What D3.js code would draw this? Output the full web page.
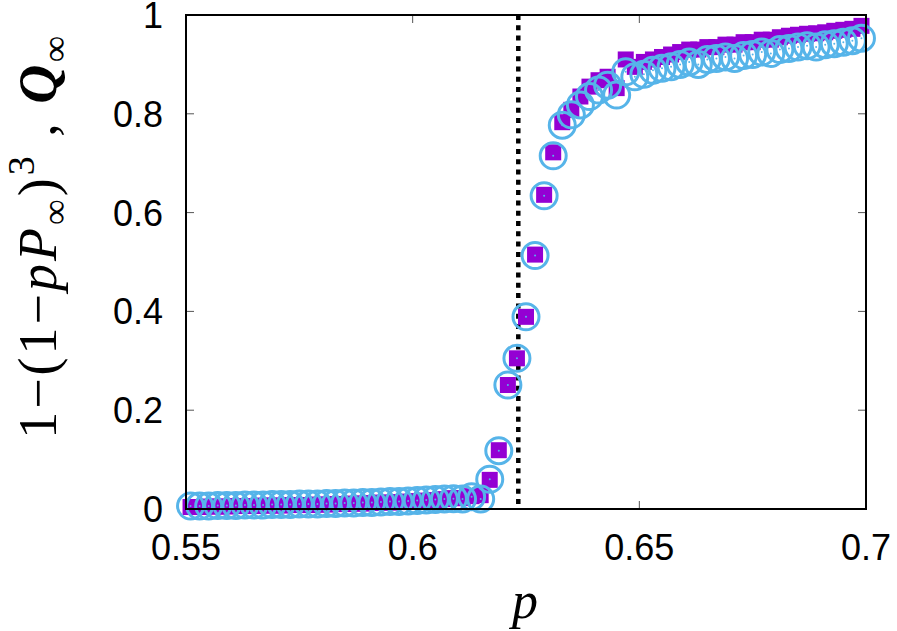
<!DOCTYPE html>
<html>
<head>
<meta charset="utf-8">
<script src="https://cdn.jsdelivr.net/npm/d3@7"></script>
<style>
  body { margin: 0; background: #fff; }
  svg { display: block; }
</style>
</head>
<body>
<svg id="chart" width="897" height="631"></svg>
<script>
// p values (x)
const pValues = [
  0.551, 0.553, 0.555, 0.557, 0.559, 0.561, 0.563, 0.565, 0.567, 0.569,
  0.571, 0.573, 0.575, 0.577, 0.579, 0.581, 0.583, 0.585, 0.587, 0.589,
  0.591, 0.593, 0.595, 0.597, 0.599, 0.601, 0.603, 0.605, 0.607, 0.609,
  0.611, 0.613, 0.615, 0.617, 0.619, 0.621, 0.623, 0.625, 0.627, 0.629,
  0.631, 0.633, 0.635, 0.637, 0.639, 0.641, 0.643, 0.645, 0.647, 0.649,
  0.651, 0.653, 0.655, 0.657, 0.659, 0.661, 0.663, 0.665, 0.667, 0.669,
  0.671, 0.673, 0.675, 0.677, 0.679, 0.681, 0.683, 0.685, 0.687, 0.689,
  0.691, 0.693, 0.695, 0.697, 0.699
];

// 1-(1-pP_inf)^3  (purple squares)
const squareValues = [
  0.004, 0.004, 0.005, 0.005, 0.005, 0.006, 0.006, 0.006, 0.007, 0.007,
  0.007, 0.008, 0.008, 0.008, 0.009, 0.009, 0.010, 0.010, 0.011, 0.011,
  0.012, 0.013, 0.013, 0.014, 0.015, 0.016, 0.017, 0.018, 0.020, 0.022,
  0.022, 0.026, 0.028, 0.059, 0.119, 0.251, 0.305, 0.389, 0.515, 0.636,
  0.722, 0.783, 0.808, 0.835, 0.855, 0.868, 0.875, 0.852, 0.910, 0.895,
  0.905, 0.910, 0.915, 0.920, 0.925, 0.930, 0.930, 0.935, 0.935, 0.940,
  0.940, 0.945, 0.945, 0.950, 0.950, 0.955, 0.958, 0.960, 0.962, 0.963,
  0.965, 0.968, 0.970, 0.972, 0.978
];

// Q_inf  (blue circles)
const circleValues = [
  0.006, 0.006, 0.006, 0.007, 0.007, 0.007, 0.008, 0.008, 0.008, 0.009,
  0.009, 0.009, 0.010, 0.010, 0.010, 0.011, 0.011, 0.012, 0.012, 0.013,
  0.013, 0.014, 0.015, 0.015, 0.016, 0.017, 0.018, 0.019, 0.020, 0.021,
  0.020, 0.025, 0.020, 0.060, 0.118, 0.251, 0.305, 0.389, 0.513, 0.634,
  0.715, 0.777, 0.798, 0.818, 0.835, 0.848, 0.858, 0.838, 0.885, 0.875,
  0.880, 0.888, 0.892, 0.895, 0.900, 0.905, 0.900, 0.910, 0.912, 0.915,
  0.912, 0.918, 0.920, 0.925, 0.922, 0.930, 0.932, 0.935, 0.938, 0.935,
  0.940, 0.942, 0.945, 0.948, 0.953
];

const xTicks = [0.55, 0.6, 0.65, 0.7];
const xTickLabels = ["0.55", "0.6", "0.65", "0.7"];
const yTicks = [0, 0.2, 0.4, 0.6, 0.8, 1];
const yTickLabels = ["0", "0.2", "0.4", "0.6", "0.8", "1"];
const pCritical = 0.6233;

const margin = {left: 186, right: 31, top: 15, bottom: 122};
const width = 897, height = 631;

const svg = d3.select("#chart");

const x = d3.scaleLinear().domain([0.55, 0.7]).range([margin.left, width - margin.right]);
const y = d3.scaleLinear().domain([0, 1]).range([height - margin.bottom, margin.top]);

const squareColor = "#9400d3";
const circleColor = "#56b4e9";

// ticks (inward, on all four sides)
const tickLen = 8;
const tickG = svg.append("g").attr("stroke", "#555").attr("stroke-width", 1);
xTicks.forEach(t => {
  tickG.append("line").attr("x1", x(t)).attr("x2", x(t)).attr("y1", y(0)).attr("y2", y(0) - tickLen);
  tickG.append("line").attr("x1", x(t)).attr("x2", x(t)).attr("y1", y(1)).attr("y2", y(1) + tickLen);
});
yTicks.forEach(t => {
  tickG.append("line").attr("x1", x(0.55)).attr("x2", x(0.55) + tickLen).attr("y1", y(t)).attr("y2", y(t));
  tickG.append("line").attr("x1", x(0.7)).attr("x2", x(0.7) - tickLen).attr("y1", y(t)).attr("y2", y(t));
});

// tick labels
svg.append("g").selectAll("text")
  .data(xTicks)
  .join("text")
  .attr("x", d => x(d))
  .attr("y", 560)
  .attr("text-anchor", "middle")
  .attr("font-family", "Liberation Sans, Arial, sans-serif")
  .attr("font-size", 36)
  .text((d, i) => xTickLabels[i]);

svg.append("g").selectAll("text")
  .data(yTicks)
  .join("text")
  .attr("x", 163)
  .attr("y", d => y(d))
  .attr("dy", "0.36em")
  .attr("text-anchor", "end")
  .attr("font-family", "Liberation Sans, Arial, sans-serif")
  .attr("font-size", 36)
  .text((d, i) => yTickLabels[i]);

// critical point, dotted line
svg.append("line")
  .attr("x1", x(pCritical)).attr("x2", x(pCritical))
  .attr("y1", y(1)).attr("y2", y(0))
  .attr("stroke", "#000")
  .attr("stroke-width", 4.5)
  .attr("stroke-dasharray", "5,5.3");

// squares
const sq = 16;
svg.append("g").selectAll("rect")
  .data(pValues)
  .join("rect")
  .attr("x", (d, i) => x(d) - sq / 2)
  .attr("y", (d, i) => y(squareValues[i]) - sq / 2)
  .attr("width", sq)
  .attr("height", sq)
  .attr("fill", squareColor);

// circles
svg.append("g").selectAll("circle")
  .data(pValues)
  .join("circle")
  .attr("cx", d => x(d))
  .attr("cy", (d, i) => y(circleValues[i]))
  .attr("r", 13)
  .attr("fill", "none")
  .attr("stroke", circleColor)
  .attr("stroke-width", 3);

svg.append("g").selectAll("circle")
  .data(pValues)
  .join("circle")
  .attr("cx", d => x(d))
  .attr("cy", (d, i) => y(circleValues[i]))
  .attr("r", 1)
  .attr("fill", circleColor);

// frame
svg.append("rect")
  .attr("x", x(0.55)).attr("y", y(1))
  .attr("width", x(0.7) - x(0.55)).attr("height", y(0) - y(1))
  .attr("fill", "none")
  .attr("stroke", "#000")
  .attr("stroke-width", 2);

// x axis title
svg.append("text")
  .attr("x", 525)
  .attr("y", 618)
  .attr("text-anchor", "middle")
  .attr("font-family", "Liberation Serif, Times New Roman, serif")
  .attr("font-style", "italic")
  .attr("font-size", 52)
  .text("p");

// y axis title
const yt = svg.append("text")
  .attr("transform", "translate(56,236) rotate(-90)")
  .attr("text-anchor", "middle")
  .attr("font-family", "Liberation Serif, Times New Roman, serif")
  .attr("font-size", 54)
  .attr("letter-spacing", 3);
yt.append("tspan").text("1\u2212(1\u2212");
yt.append("tspan").attr("font-style", "italic").text("pP");
yt.append("tspan").attr("font-size", 36).attr("dy", 11).text("\u221e");
yt.append("tspan").attr("dy", -11).text(")");
yt.append("tspan").attr("font-size", 38).attr("dy", -22).text("3");
yt.append("tspan").attr("dy", 22).text(" , ");
yt.append("tspan").attr("font-style", "italic").attr("font-weight", "bold").text("Q");
yt.append("tspan").attr("font-weight", "bold").attr("font-size", 36).attr("dy", 11).text("\u221e");
</script>
</body>
</html>
